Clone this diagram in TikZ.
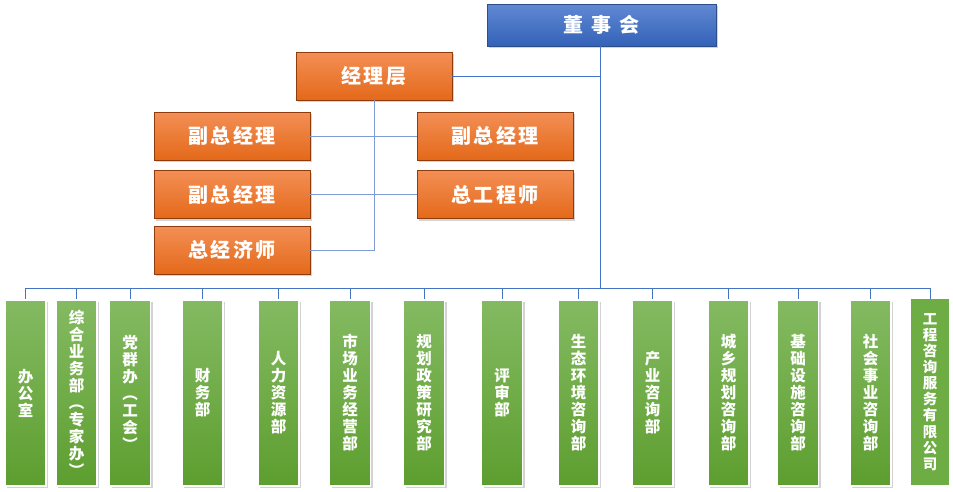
\documentclass[tikz,border=0pt]{standalone}
\usepackage{fontspec}
\newfontfamily\cjk{Noto Sans CJK SC}
\newfontfamily\cjkwide{Noto Sans CJK SC}[LetterSpace=12]
\usetikzlibrary{shadows}
\definecolor{boardtop}{HTML}{6189D3}
\definecolor{boardbot}{HTML}{3362B8}
\definecolor{boardline}{HTML}{2E4E8A}
\definecolor{mgrtop}{HTML}{F38F55}
\definecolor{mgrbot}{HTML}{E4691A}
\definecolor{mgrline}{HTML}{8F3B0B}
\definecolor{depttop}{HTML}{84BA62}
\definecolor{deptbot}{HTML}{5D9E2F}
\definecolor{deptflat}{HTML}{6EAC44}
\definecolor{busline}{HTML}{4472C4}
\definecolor{subline}{HTML}{7F9BD5}
\tikzset{
  boardbox/.style={draw=boardline, line width=0.8pt, top color=boardtop, bottom color=boardbot,
    minimum width=229pt, minimum height=42pt, inner sep=0pt, text=white,
    font=\cjk\bfseries\fontsize{20}{20}\selectfont,
    drop shadow={opacity=0.35, shadow xshift=2pt, shadow yshift=-2pt}},
  mgrbox/.style={draw=mgrline, line width=0.8pt, top color=mgrtop, bottom color=mgrbot,
    minimum width=156pt, minimum height=48pt, inner sep=0pt, text=white,
    font=\cjkwide\bfseries\fontsize{20}{20}\selectfont,
    drop shadow={opacity=0.35, shadow xshift=2pt, shadow yshift=-2pt}},
  deptbox/.style={draw=white, line width=1.4pt, top color=depttop, bottom color=deptbot,
    minimum width=41pt, minimum height=186pt, inner sep=0pt, text=white, align=center,
    font=\cjk\bfseries\fontsize{15.5}{17}\selectfont,
    drop shadow={opacity=0.35, shadow xshift=2pt, shadow yshift=-2pt}},
  firmbox/.style={fill=deptflat, minimum width=38pt, minimum height=186pt, inner sep=0pt,
    text=white, align=center, font=\cjk\bfseries\fontsize{14.5}{16.1}\selectfont},
  conn/.style={draw=busline, line width=0.9pt},
  subconn/.style={draw=subline, line width=0.9pt}
}
\begin{document}
\begin{tikzpicture}[x=1pt, y=-1pt]
\useasboundingbox (0,0) rectangle (953,491);

% Board and management
\node[boardbox] (board) at (601.5,25) {董\hspace{8pt}事\hspace{8pt}会};
\node[mgrbox] (mgr) at (374,76) {经理层};
\node[mgrbox] (vpa) at (232,136) {副总经理};
\node[mgrbox] (vpb) at (232,194.5) {副总经理};
\node[mgrbox] (cfo) at (232,250) {总经济师};
\node[mgrbox] (vpc) at (495,136) {副总经理};
\node[mgrbox] (chief) at (495,194.5) {总工程师};

% Departments
\node[deptbox] (d1) at (25.5,393) {办\\公\\室};
\node[deptbox] (d2) at (76.5,393) {综\\合\\业\\务\\部\\︵\\专\\家\\办\\︶};
\node[deptbox] (d3) at (130,393) {党\\群\\办\\︵\\工\\会\\︶};
\node[deptbox] (d4) at (202.5,393) {财\\务\\部};
\node[deptbox] (d5) at (278.5,393) {人\\力\\资\\源\\部};
\node[deptbox] (d6) at (350,393) {市\\场\\业\\务\\经\\营\\部};
\node[deptbox] (d7) at (424,393) {规\\划\\政\\策\\研\\究\\部};
\node[deptbox] (d8) at (502,393) {评\\审\\部};
\node[deptbox] (d9) at (578.5,393) {生\\态\\环\\境\\咨\\询\\部};
\node[deptbox] (d10) at (652.5,393) {产\\业\\咨\\询\\部};
\node[deptbox] (d11) at (728.5,393) {城\\乡\\规\\划\\咨\\询\\部};
\node[deptbox] (d12) at (798,393) {基\\础\\设\\施\\咨\\询\\部};
\node[deptbox] (d13) at (870.5,393) {社\\会\\事\\业\\咨\\询\\部};
\node[firmbox] (d14) at (930,392) {工\\程\\咨\\询\\服\\务\\有\\限\\公\\司};

% Connectors
\coordinate (bus) at (600,288);
\draw[conn] (board.south -| bus) -- (bus);
\draw[conn] (mgr.east) -- (mgr.east -| bus);
\foreach \d in {d1,d2,d3,d4,d5,d6,d7,d8,d9,d10,d11,d12,d13,d14}
  \draw[conn] (bus) -| (\d.north);
\draw[subconn] (mgr.south) |- (cfo.east);
\draw[subconn] (vpa.east) -- (vpc.west);
\draw[subconn] (vpb.east) -- (chief.west);
\end{tikzpicture}
\end{document}
